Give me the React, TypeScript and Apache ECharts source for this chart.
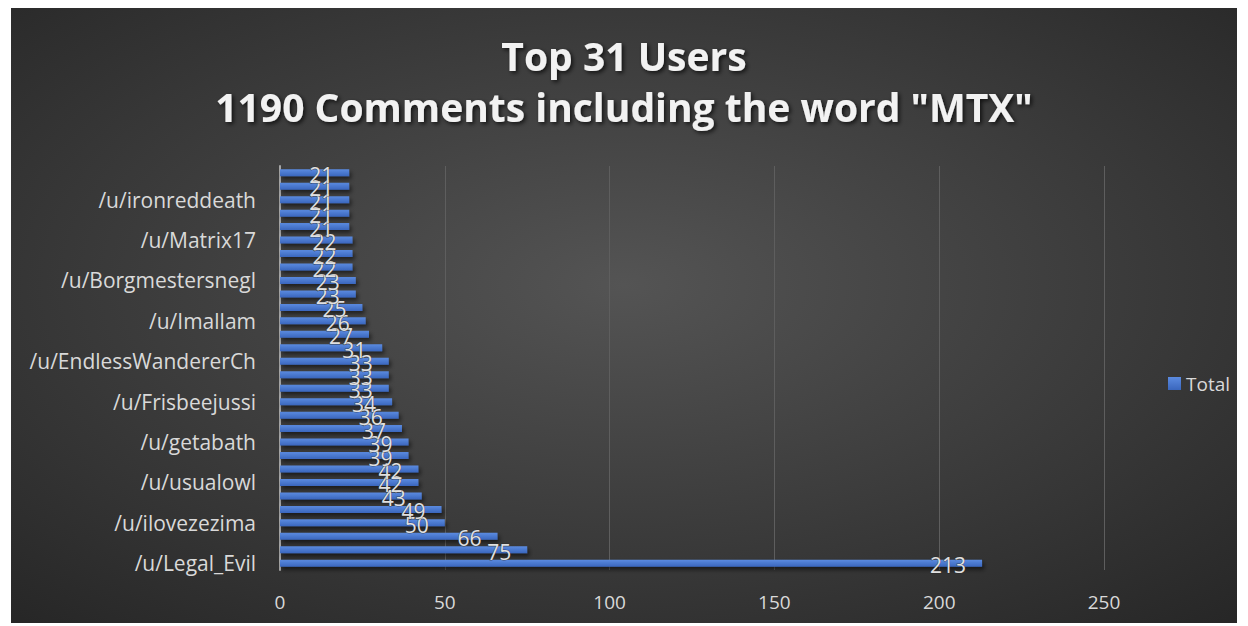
import React, { useEffect, useRef } from "react";
import * as echarts from "echarts";

// categories listed bottom (index 0) to top; only every third name is shown on the axis
const users: string[] = [
  "/u/Legal_Evil", "", "",
  "/u/ilovezezima", "", "",
  "/u/usualowl", "", "",
  "/u/getabath", "", "",
  "/u/Frisbeejussi", "", "",
  "/u/EndlessWandererCh", "", "",
  "/u/Imallam", "", "",
  "/u/Borgmestersnegl", "", "",
  "/u/Matrix17", "", "",
  "/u/ironreddeath", "", "",
];

const totals: number[] = [
  213, 75, 66, 50, 49, 43, 42, 42, 39, 39,
  37, 36, 34, 33, 33, 33, 31, 27, 26, 25,
  23, 23, 22, 22, 22, 21, 21, 21, 21, 21,
];

const xTicks = { min: 0, max: 250, interval: 50 };
const seriesName = "Total";
const titleLines = ["Top 31 Users", '1190 Comments including the word "MTX"'];

export default function App() {
  const ref = useRef<HTMLDivElement>(null);
  useEffect(() => {
    document.body.style.margin = "0";
    const chart = echarts.init(ref.current!, undefined, { renderer: "svg" });
    const font = "'Open Sans', 'DejaVu Sans', sans-serif";
    chart.setOption({
      animation: false,
      backgroundColor: "#ffffff",
      graphic: [
        {
          type: "rect",
          z: -10,
          silent: true,
          shape: { x: 11, y: 8, width: 1226, height: 615 },
          style: {
            fill: {
              type: "radial",
              x: 0.5,
              y: 0.45,
              r: 0.75,
              colorStops: [
                { offset: 0, color: "#545454" },
                { offset: 1, color: "#262626" },
              ],
            },
          },
        },
      ],
      title: {
        text: titleLines.join("\n"),
        left: "center",
        top: 25,
        textStyle: {
          fontFamily: font,
          fontWeight: "bold",
          fontSize: 39,
          lineHeight: 51,
          color: "#f2f2f2",
          textShadowColor: "rgba(0,0,0,0.7)",
          textShadowBlur: 4,
          textShadowOffsetX: 2,
          textShadowOffsetY: 2,
        },
      },
      legend: {
        data: [seriesName],
        left: 1163,
        top: 369,
        icon: "rect",
        itemWidth: 13,
        itemHeight: 13,
        itemGap: 6,
        textStyle: { color: "#d9d9d9", fontSize: 19, fontFamily: font },
      },
      grid: { left: 280, right: 144, top: 166, bottom: 56, containLabel: false },
      xAxis: {
        type: "value",
        min: xTicks.min,
        max: xTicks.max,
        interval: xTicks.interval,
        axisLine: { show: false },
        axisTick: { show: false },
        splitLine: { lineStyle: { color: "#5e5e5e", width: 1 } },
        axisLabel: { color: "#d9d9d9", fontSize: 19, fontFamily: font, margin: 22 },
      },
      yAxis: {
        type: "category",
        data: users,
        axisLine: { show: true, lineStyle: { color: "#a6a6a6", width: 2 } },
        axisTick: { show: false },
        splitLine: { show: false },
        axisLabel: {
          interval: 2,
          color: "#d9d9d9",
          fontSize: 21,
          fontFamily: font,
          margin: 24,
        },
      },
      series: [
        {
          name: seriesName,
          type: "bar",
          data: totals,
          barWidth: 7,
          itemStyle: {
            color: {
              type: "linear",
              x: 0,
              y: 0,
              x2: 0,
              y2: 1,
              colorStops: [
                { offset: 0, color: "#5b8be0" },
                { offset: 1, color: "#3a66bd" },
              ],
            },
            shadowColor: "rgba(0,0,0,0.55)",
            shadowBlur: 4,
            shadowOffsetX: 2,
            shadowOffsetY: 3,
          },
          label: {
            show: true,
            position: "insideRight",
            distance: 16,
            offset: [0, 2],
            color: "#e0e0e0",
            fontSize: 21,
            fontFamily: font,
            textBorderColor: "rgba(40,40,40,0.6)",
            textBorderWidth: 1,
          },
        },
      ],
    });
    return () => chart.dispose();
  }, []);
  return <div ref={ref} style={{ width: 1248, height: 626 }} />;
}
